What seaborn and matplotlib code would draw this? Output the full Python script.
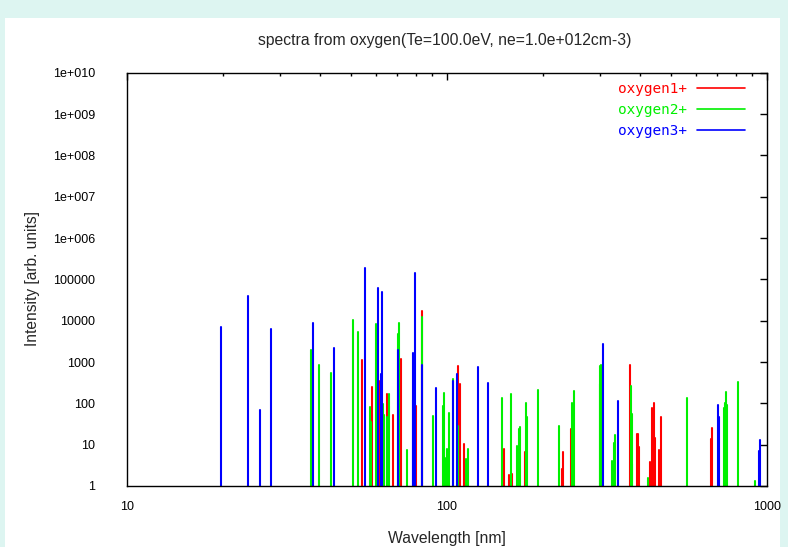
import matplotlib
matplotlib.use("Agg")
import numpy as np
import pandas as pd
import seaborn as sns
import matplotlib.pyplot as plt
from matplotlib.patches import Rectangle
from matplotlib.font_manager import FontProperties
from matplotlib.ticker import FixedLocator, NullFormatter

title = "spectra from oxygen(Te=100.0eV, ne=1.0e+012cm-3)"
x_label = "Wavelength [nm]"
y_label = "Intensity [arb. units]"
series_names = ["oxygen1+", "oxygen2+", "oxygen3+"]
series_colors = ["#ff0000", "#00f000", "#0000ff"]

o1_wavelength = [54.1, 58.3, 60.3, 61.4, 64.8, 67.8, 72.0, 80.2, 83.5, 108.2,
                 109.6, 113.0, 150.4, 155.9, 160.0, 174.9, 228.7, 230.9, 243.6, 372.4,
                 392.4, 396.0, 399.0, 431.7, 436.3, 443.6, 446.7, 458.8, 466.6, 666.9,
                 673.4]
o1_intensity = [1120, 254, 49, 348, 166, 52, 1180, 87, 17500, 810,
                290, 10.4, 8, 1.8, 1.95, 6.6, 2.6, 6.6, 23.6, 835,
                18, 18, 8.6, 3.8, 79, 104, 14.5, 7.4, 46, 13.8,
                25]

o2_wavelength = [37.5, 39.8, 43.4, 50.8, 52.6, 57.3, 57.8, 59.9, 63.2, 63.7,
                 65.1, 66.0, 70.3, 70.8, 75.2, 83.5, 90.2, 97.0, 97.9, 99.1,
                 100.0, 101.2, 104.4, 108.2, 114.6, 116.3, 148.5, 158.8, 165.8, 167.5,
                 169.1, 176.2, 177.4, 192.4, 223.4, 245.8, 249.4, 299.7, 301.4, 303.5,
                 328.6, 332.6, 335.7, 375.1, 378.5, 379.9, 424.9, 561.0, 733.8, 740.8,
                 746.3, 751.7, 813.0, 919.0]
o2_intensity = [1900, 835, 555, 10300, 5350, 80, 35, 8300, 97, 52,
                46, 166, 4800, 9000, 7.4, 12600, 50, 87, 175, 4.7,
                7.7, 58, 385, 29, 4.4, 7.9, 137, 169, 9.3, 23.6,
                27, 104, 47, 207, 29, 104, 203, 810, 300, 830,
                4, 11.2, 17, 263, 56, 3.4, 1.6, 137, 79, 100,
                190, 90, 330, 1.3]

o3_wavelength = [19.7, 23.9, 26.0, 28.1, 38.1, 44.4, 55.3, 61.0, 62.1, 62.7,
                 70.3, 78.2, 78.5, 79.3, 83.5, 92.6, 104.6, 107.2, 124.7, 134.6,
                 306.6, 341.6, 703.0, 707.9, 944.0, 951.0]
o3_intensity = [7000, 40000, 69, 6400, 8960, 2150, 186000, 63000, 516, 49000,
                1900, 121, 1630, 141000, 850, 232, 355, 516, 775, 306,
                2700, 113, 90, 46, 6.9, 13]

x_ticks = [10, 100, 1000]
x_tick_labels = ["10", "100", "1000"]
y_ticks = [1, 10, 100, 1000, 10000, 100000, 1e6, 1e7, 1e8, 1e9, 1e10]
y_tick_labels = ["1", "10", "100", "1000", "10000", "100000",
                 "1e+006", "1e+007", "1e+008", "1e+009", "1e+010"]
baseline = 1.0

# long table: each emission line is an impulse from the baseline to its intensity
rows = []
line_id = 0
for name, wls, vals in zip(series_names,
                           [o1_wavelength, o2_wavelength, o3_wavelength],
                           [o1_intensity, o2_intensity, o3_intensity]):
    for wl, v in zip(wls, vals):
        rows.append({"wavelength": wl, "intensity": baseline, "ion": name, "line": line_id})
        rows.append({"wavelength": wl, "intensity": v, "ion": name, "line": line_id})
        line_id += 1
df = pd.DataFrame(rows)

sns.set_style("white")
plt.rcParams["font.family"] = ["Liberation Sans", "DejaVu Sans"]

W, H, DPI = 788, 547, 100
fig = plt.figure(figsize=(W / DPI, H / DPI), dpi=DPI)
fig.patch.set_facecolor("#ddf5f1")
fig.patches.append(Rectangle((5 / W, 0), (780 - 5) / W, 1 - 18 / H,
                             transform=fig.transFigure, facecolor="white",
                             edgecolor="none", zorder=-10))

ax_l, ax_r, ax_t, ax_b = 127, 767, 72.7, 486
ax = fig.add_axes([ax_l / W, 1 - ax_b / H, (ax_r - ax_l) / W, (ax_b - ax_t) / H])
ax.set_facecolor("white")

sns.lineplot(data=df, x="wavelength", y="intensity", hue="ion", units="line",
             estimator=None, sort=False, hue_order=series_names,
             palette=series_colors, linewidth=1.5, ax=ax, legend=True)

ax.set_xscale("log")
ax.set_yscale("log")
ax.set_xlim(10, 1000)
ax.set_ylim(1, 1e10)

ax.xaxis.set_major_locator(FixedLocator(x_ticks))
ax.set_xticklabels(x_tick_labels)
minor_x = [m * d for d in (10, 100) for m in range(2, 10)]
ax.xaxis.set_minor_locator(FixedLocator(minor_x))
ax.xaxis.set_minor_formatter(NullFormatter())
ax.yaxis.set_major_locator(FixedLocator(y_ticks))
ax.set_yticklabels(y_tick_labels)
ax.yaxis.set_minor_locator(FixedLocator([]))

ax.tick_params(axis="both", which="major", direction="in", length=5, width=1,
               color="black", top=True, right=True, labelsize=9, labelcolor="black")
ax.tick_params(axis="both", which="minor", direction="in", length=2.5, width=1,
               color="black", top=True, right=True)
ax.tick_params(axis="y", which="major", pad=23)
ax.tick_params(axis="x", which="major", pad=11)

for s in ax.spines.values():
    s.set_color("black")
    s.set_linewidth(1.0)
    s.set_visible(True)

ax.set_xlabel("")
ax.set_ylabel("")
fig.text(445 / W, 1 - 40 / H, title, ha="center", va="center", fontsize=11.3)
fig.text(447 / W, 1 - 539 / H, x_label, ha="center", va="center", fontsize=11.3)
fig.text(33 / W, 1 - 278 / H, y_label, ha="center", va="center", rotation=90, fontsize=11.2)

handles, labels = ax.get_legend_handles_labels()
leg = ax.legend(handles, labels, loc="upper right", frameon=False, markerfirst=False,
                labelcolor="linecolor", prop=FontProperties(family="DejaVu Sans Mono", size=10.4),
                handlelength=3.3, handletextpad=0.7, labelspacing=0.47,
                borderpad=0, borderaxespad=0,
                bbox_to_anchor=((745 - ax_l) / (ax_r - ax_l), 0.977))
for h in leg.legend_handles:
    h.set_linewidth(1.2)

fig.savefig("out.png", dpi=DPI, facecolor=fig.get_facecolor())
